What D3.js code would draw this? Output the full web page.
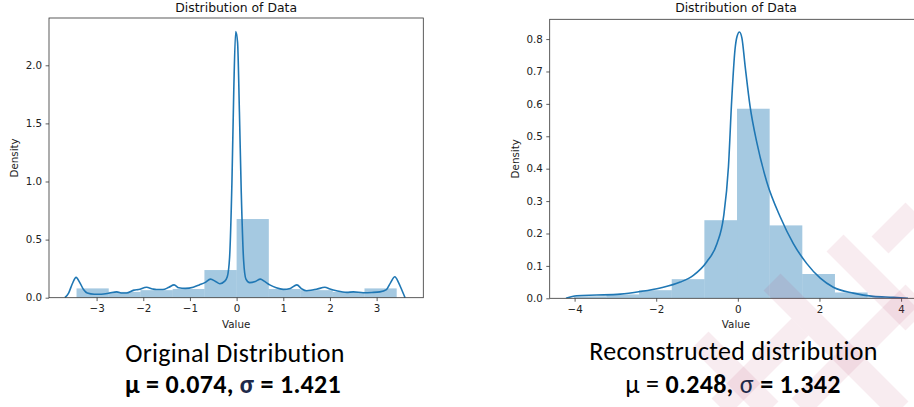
<!DOCTYPE html>
<html>
<head>
<meta charset="utf-8">
<script src="https://cdn.jsdelivr.net/npm/d3@7"></script>
<style>
  body { margin: 0; background: #fff; }
  svg { display: block; }
  .tick text { font-family: "DejaVu Sans", sans-serif; font-size: 10.3px; fill: #222; }
  .axis-label { font-family: "DejaVu Sans", sans-serif; font-size: 10.3px; fill: #222; }
  .title { font-family: "DejaVu Sans", sans-serif; font-size: 12.4px; fill: #111; }
  .caption { font-family: Carlito, Calibri, Lato, sans-serif; font-size: 26px; letter-spacing: 0.3px; fill: #000; }
</style>
</head>
<body>
<div id="chart"></div>
<script>
/* DATA */
// original distribution (left)
const origBinEdges = [-3.43, -2.74, -2.06, -1.37, -0.69, 0, 0.69, 1.37, 2.06, 2.74, 3.43];
const origBinHeights = [0.08, 0.05, 0.065, 0.075, 0.238, 0.677, 0.075, 0.065, 0.05, 0.08];
const origKdeX = [-3.68, -3.6, -3.52, -3.44, -3.36, -3.28, -3.2, -3.05, -2.9, -2.72, -2.57, -2.45, -2.36, -2.2, -2.1,
  -1.93, -1.8, -1.72, -1.58, -1.45, -1.34, -1.24, -1.1, -0.93, -0.8, -0.68, -0.56, -0.45, -0.36, -0.26, -0.2,
  -0.15, -0.1, -0.06, -0.02, 0.02, 0.06, 0.1, 0.15, 0.2, 0.28, 0.4, 0.51, 0.6, 0.71, 0.85, 1.0, 1.15, 1.29,
  1.4, 1.5, 1.62, 1.71, 1.89, 2.0, 2.14, 2.36, 2.5, 2.71, 2.9, 3.07, 3.21, 3.3, 3.39, 3.47, 3.54, 3.61];
const origKdeY = [0, 0.04, 0.12, 0.175, 0.13, 0.07, 0.04, 0.03, 0.03, 0.04, 0.05, 0.04, 0.04, 0.065, 0.07,
  0.09, 0.075, 0.07, 0.07, 0.09, 0.11, 0.085, 0.08, 0.09, 0.11, 0.13, 0.16, 0.14, 0.12, 0.14, 0.18,
  0.35, 1.0, 1.8, 2.29, 2.2, 1.6, 0.9, 0.32, 0.16, 0.13, 0.14, 0.16, 0.14, 0.11, 0.085, 0.072, 0.08, 0.11,
  0.075, 0.06, 0.066, 0.072, 0.09, 0.075, 0.06, 0.046, 0.05, 0.043, 0.045, 0.05, 0.07, 0.13, 0.18, 0.13, 0.066, 0];
const origXTicks = [-3, -2, -1, 0, 1, 2, 3];
const origYTicks = [0, 0.5, 1.0, 1.5, 2.0];

// reconstructed distribution (right)
const recBinEdges = [-4.02, -3.22, -2.42, -1.62, -0.82, -0.02, 0.78, 1.58, 2.38, 3.18, 3.98];
const recBinHeights = [0.006, 0.012, 0.025, 0.059, 0.241, 0.585, 0.225, 0.075, 0.018, 0.003];
const recKdeX = [-4.21, -3.95, -3.46, -2.88, -2.39, -1.9, -1.41, -1.09, -0.76, -0.51, -0.35, -0.23, -0.15, -0.07,
  -0.02, 0.04, 0.1, 0.18, 0.3, 0.47, 0.71, 1.04, 1.36, 1.69, 2.02, 2.34, 2.83, 3.32, 3.81, 4.17];
const recKdeY = [0, 0.008, 0.01, 0.013, 0.021, 0.032, 0.05, 0.071, 0.113, 0.169, 0.251, 0.406, 0.612, 0.767,
  0.808, 0.822, 0.803, 0.715, 0.592, 0.478, 0.359, 0.251, 0.169, 0.107, 0.062, 0.034, 0.016, 0.006, 0.003, 0];
const recXTicks = [-4, -2, 0, 2, 4];
const recYTicks = [0, 0.1, 0.2, 0.3, 0.4, 0.5, 0.6, 0.7, 0.8];

const width = 914;
const height = 407;
const blue = '#1f77b4';

const svg = d3.select('#chart').append('svg')
  .attr('width', width)
  .attr('height', height);

// one seaborn-style distplot panel
function drawPanel(opts) {
  const x = d3.scaleLinear().domain(opts.xDomain).range(opts.xRange);
  const y = d3.scaleLinear().domain(opts.yDomain).range(opts.yRange);
  const g = svg.append('g');

  const clipId = 'clip-' + opts.id;
  g.append('clipPath').attr('id', clipId)
    .append('rect')
    .attr('x', opts.xRange[0]).attr('y', opts.yRange[1])
    .attr('width', opts.xRange[1] - opts.xRange[0])
    .attr('height', opts.yRange[0] - opts.yRange[1]);

  const plot = g.append('g').attr('clip-path', `url(#${clipId})`);

  const bins = opts.binHeights.map((h, i) => ({ x0: opts.binEdges[i], x1: opts.binEdges[i + 1], h }));
  plot.selectAll('rect.bar')
    .data(bins)
    .enter()
    .append('rect')
    .attr('class', 'bar')
    .attr('x', (d) => x(d.x0))
    .attr('width', (d) => x(d.x1) - x(d.x0))
    .attr('y', (d) => y(d.h))
    .attr('height', (d) => y(0) - y(d.h))
    .attr('fill', blue)
    .attr('fill-opacity', 0.4);

  const kde = opts.kdeX.map((v, i) => [v, opts.kdeY[i]]);
  const line = d3.line()
    .x((d) => x(d[0]))
    .y((d) => y(d[1]))
    .curve(d3.curveMonotoneX);
  plot.append('path')
    .datum(kde)
    .attr('d', line)
    .attr('fill', 'none')
    .attr('stroke', blue)
    .attr('stroke-width', 1.6);

  // axes
  const xAxis = d3.axisBottom(x).tickValues(opts.xTicks).tickSize(3.4).tickPadding(3.5)
    .tickFormat((d) => (d < 0 ? '\u2212' + Math.abs(d) : d));
  const xg = g.append('g')
    .attr('transform', `translate(0, ${opts.yRange[0]})`)
    .call(xAxis);
  xg.select('.domain').remove();

  const yAxis = d3.axisLeft(y).tickValues(opts.yTicks).tickSize(3.4).tickPadding(3.5)
    .tickFormat(d3.format(opts.yFormat));
  const yg = g.append('g')
    .attr('transform', `translate(${opts.xRange[0]}, 0)`)
    .call(yAxis);
  yg.select('.domain').remove();
  g.selectAll('.tick line').attr('stroke', '#333').attr('stroke-width', 0.8);

  // spines
  const [l, r] = opts.xRange;
  const [b, t] = opts.yRange;
  g.append('rect')
    .attr('x', l).attr('y', t)
    .attr('width', r - l).attr('height', b - t)
    .attr('fill', 'none')
    .attr('stroke', '#333')
    .attr('stroke-width', 0.8);

  g.append('text')
    .attr('class', 'title')
    .attr('x', (l + r) / 2).attr('y', 12)
    .attr('text-anchor', 'middle')
    .text('Distribution of Data');

  g.append('text')
    .attr('class', 'axis-label')
    .attr('x', (l + r) / 2).attr('y', 328)
    .attr('text-anchor', 'middle')
    .text('Value');

  g.append('text')
    .attr('class', 'axis-label')
    .attr('transform', `translate(${opts.yLabelX}, ${(t + b) / 2}) rotate(-90)`)
    .attr('text-anchor', 'middle')
    .text('Density');
}

drawPanel({
  id: 'orig',
  xDomain: [-4.02, 4.0], xRange: [49, 423.3],
  yDomain: [0, 2.407], yRange: [297.7, 18],
  binEdges: origBinEdges, binHeights: origBinHeights,
  kdeX: origKdeX, kdeY: origKdeY,
  xTicks: origXTicks, yTicks: origYTicks, yFormat: '.1f',
  yLabelX: 18
});

drawPanel({
  id: 'rec',
  xDomain: [-4.61, 4.52], xRange: [549.7, 922.3],
  yDomain: [0, 0.861], yRange: [298.3, 19.3],
  binEdges: recBinEdges, binHeights: recBinHeights,
  kdeX: recKdeX, kdeY: recKdeY,
  xTicks: recXTicks, yTicks: recYTicks, yFormat: '.1f',
  yLabelX: 519
});

// watermark lattice (bottom right), faint pink diagonal bands
const wm = svg.append('g').attr('fill', 'rgb(180,40,90)').attr('fill-opacity', 0.09);
const bands = [
  [772, 282, 900, 410, 24],
  [835, 243, 914, 322, 24],
  [700, 340, 770, 410, 24],
  [800, 407, 914, 293, 24],
  [880, 245, 914, 211, 24],
  [720, 407, 800, 327, 24]
];
bands.forEach(([x1, y1, x2, y2, w]) => {
  const len = Math.hypot(x2 - x1, y2 - y1);
  const ang = Math.atan2(y2 - y1, x2 - x1) * 180 / Math.PI;
  wm.append('rect')
    .attr('x', 0).attr('y', -w / 2)
    .attr('width', len).attr('height', w)
    .attr('transform', `translate(${x1},${y1}) rotate(${ang})`);
});

// captions
const navy = '#1f2a4a';
const c1 = svg.append('text').attr('class', 'caption').attr('text-anchor', 'middle').attr('x', 235).attr('y', 362);
c1.text('Original Distribution');
const c2 = svg.append('text').attr('class', 'caption').attr('text-anchor', 'middle').attr('x', 233).attr('y', 393)
  .attr('font-weight', 'bold');
c2.append('tspan').text('\u03bc = 0.074, ');
c2.append('tspan').attr('fill', navy).text('\u03c3');
c2.append('tspan').text(' = 1.421');

const c3 = svg.append('text').attr('class', 'caption').attr('text-anchor', 'middle').attr('x', 733.5).attr('y', 360);
c3.text('Reconstructed distribution');
const c4 = svg.append('text').attr('class', 'caption').attr('text-anchor', 'middle').attr('x', 733).attr('y', 393);
c4.append('tspan').text('\u03bc = ');
c4.append('tspan').attr('font-weight', 'bold').text('0.248, ');
c4.append('tspan').attr('fill', navy).text('\u03c3');
c4.append('tspan').attr('font-weight', 'bold').text(' = 1.342');
</script>
</body>
</html>
